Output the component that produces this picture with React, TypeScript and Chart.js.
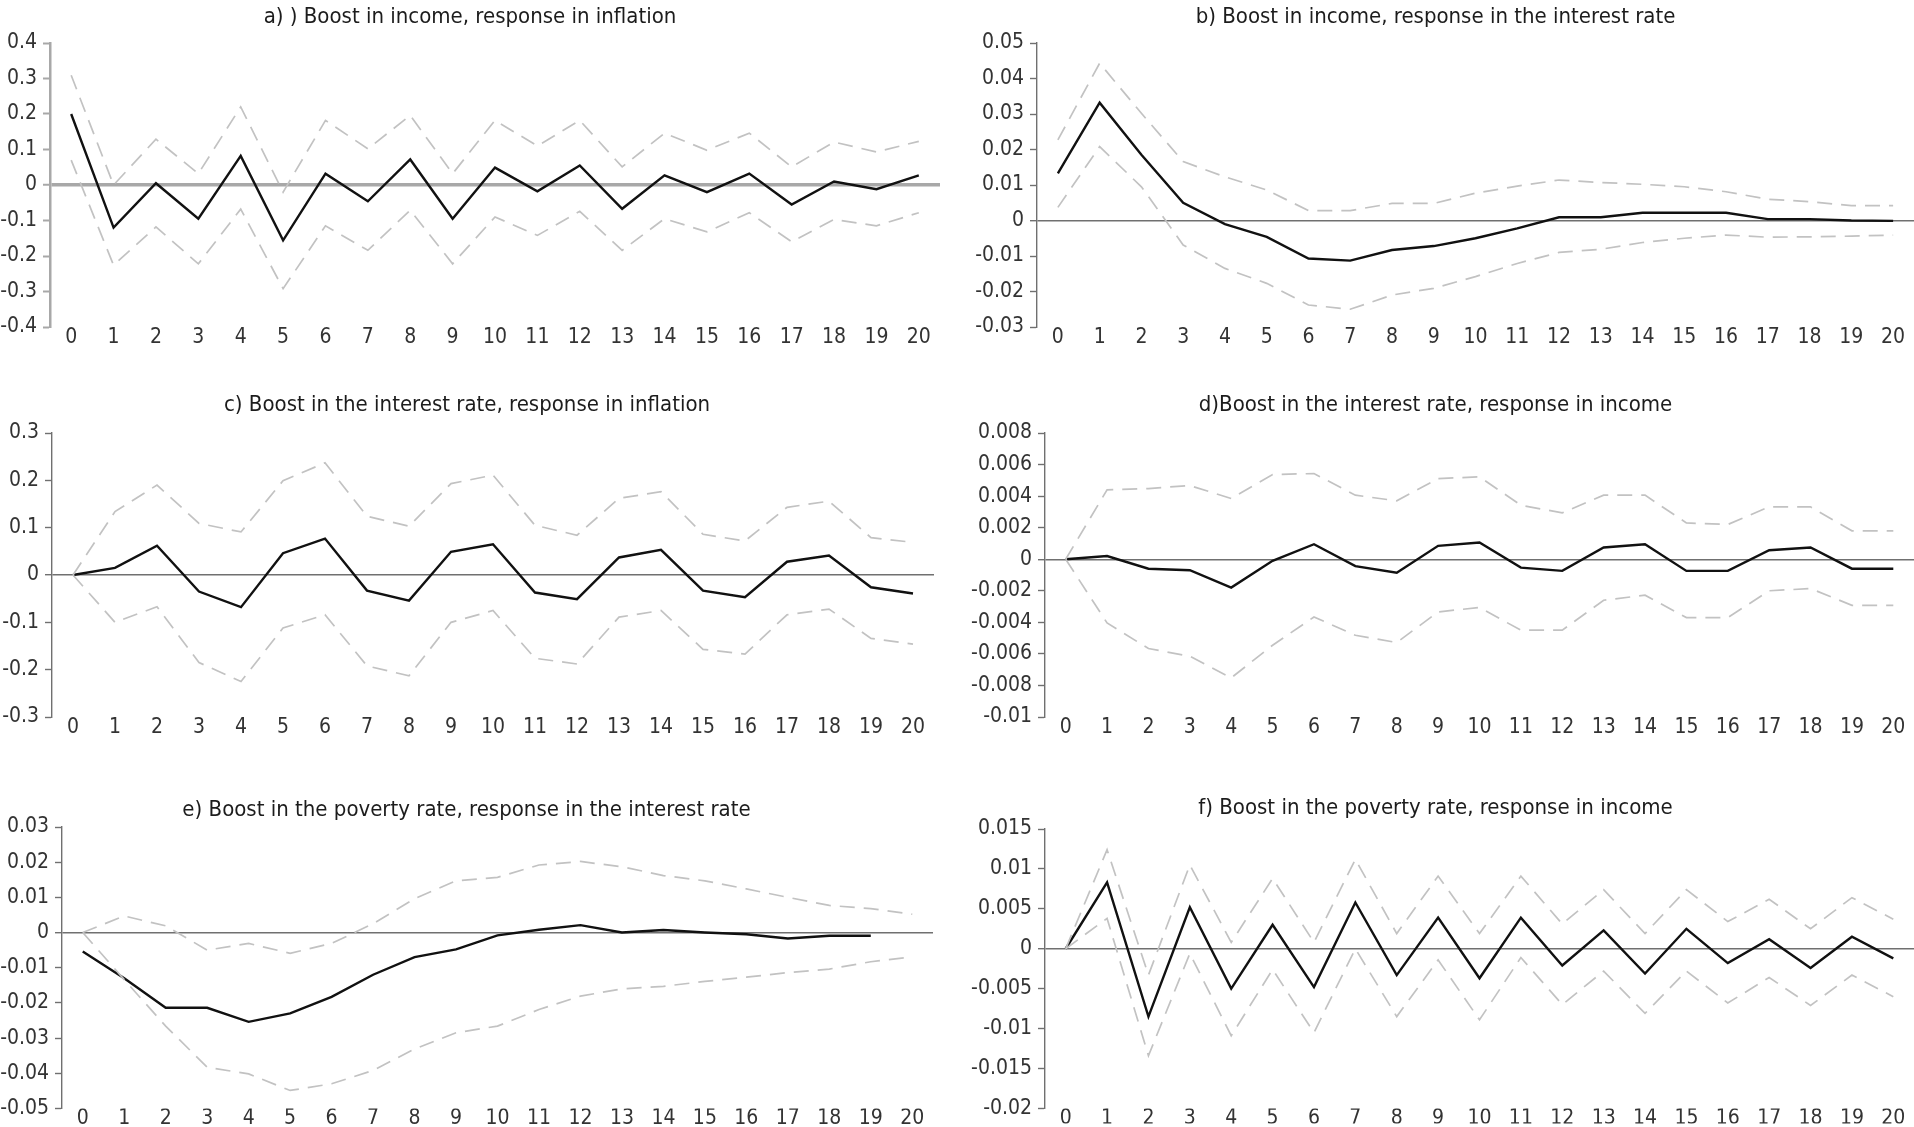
import React, { useEffect, useRef } from 'react';
import { Chart, registerables } from 'chart.js';

Chart.register(...registerables);

// ---------- data ----------
const periods = ['0', '1', '2', '3', '4', '5', '6', '7', '8', '9', '10', '11', '12', '13', '14', '15', '16', '17', '18', '19', '20'];

const titleA = 'a) ) Boost in income, response in inflation';
const titleB = 'b) Boost in income, response in the interest rate';
const titleC = 'c) Boost in the interest rate, response in inflation';
const titleD = 'd)Boost in the interest rate, response in income';
const titleE = 'e) Boost in the poverty rate, response in the interest rate';
const titleF = 'f) Boost in the poverty rate, response in income';

const aMain = [0.2, -0.12, 0.005, -0.095, 0.082, -0.156, 0.032, -0.046, 0.072, -0.095, 0.049, -0.018, 0.055, -0.067, 0.027, -0.02, 0.032, -0.055, 0.01, -0.012, 0.027];
const aUpper = [0.309, 0.0, 0.129, 0.032, 0.22, -0.02, 0.182, 0.102, 0.196, 0.032, 0.182, 0.11, 0.182, 0.051, 0.146, 0.098, 0.146, 0.051, 0.121, 0.093, 0.123];
const aLower = [0.07, -0.226, -0.118, -0.222, -0.068, -0.292, -0.115, -0.184, -0.071, -0.222, -0.09, -0.142, -0.074, -0.184, -0.095, -0.132, -0.078, -0.16, -0.097, -0.115, -0.078];

const bMain = [0.0133, 0.0332, 0.0185, 0.005, -0.001, -0.0046, -0.0107, -0.0113, -0.0083, -0.0072, -0.005, -0.0022, 0.0009, 0.0009, 0.0022, 0.0022, 0.0022, 0.0004, 0.0004, 0.0, -0.0001];
const bUpper = [0.0227, 0.0443, 0.0302, 0.0166, 0.0123, 0.0086, 0.0028, 0.0028, 0.0048, 0.0048, 0.0077, 0.0097, 0.0114, 0.0107, 0.0102, 0.0095, 0.0081, 0.006, 0.0053, 0.0042, 0.0042];
const bLower = [0.0037, 0.0208, 0.0095, -0.0069, -0.0135, -0.0177, -0.0238, -0.025, -0.021, -0.0191, -0.0158, -0.0121, -0.009, -0.0081, -0.0062, -0.005, -0.0041, -0.0047, -0.0046, -0.0044, -0.0041];

const cMain = [0, 0.015, 0.062, -0.035, -0.068, 0.046, 0.077, -0.033, -0.054, 0.049, 0.065, -0.037, -0.051, 0.037, 0.053, -0.033, -0.047, 0.028, 0.041, -0.026, -0.039];
const cUpper = [0, 0.134, 0.19, 0.109, 0.091, 0.199, 0.237, 0.124, 0.103, 0.193, 0.211, 0.105, 0.084, 0.162, 0.176, 0.086, 0.072, 0.143, 0.156, 0.079, 0.069];
const cLower = [0, -0.1, -0.067, -0.185, -0.225, -0.112, -0.084, -0.192, -0.213, -0.1, -0.075, -0.176, -0.188, -0.089, -0.075, -0.157, -0.167, -0.084, -0.072, -0.134, -0.146];

const dMain = [0, 0.0002, -0.0006, -0.0007, -0.0018, -0.0001, 0.00095, -0.00044, -0.00085, 0.00085, 0.00106, -0.00053, -0.00074, 0.00074, 0.00095, -0.00074, -0.00074, 0.00057, 0.00074, -0.0006, -0.0006];
const dUpper = [0, 0.0044, 0.00448, 0.00467, 0.00385, 0.00537, 0.00543, 0.00406, 0.0037, 0.00511, 0.00522, 0.00342, 0.00294, 0.00406, 0.00406, 0.0023, 0.0022, 0.00332, 0.00332, 0.0018, 0.0018];
const dLower = [0, -0.00404, -0.00566, -0.00615, -0.00752, -0.00545, -0.00366, -0.00482, -0.00528, -0.00334, -0.00306, -0.0045, -0.0045, -0.0026, -0.00228, -0.0037, -0.0037, -0.002, -0.00186, -0.00292, -0.00292];

const eMain = [-0.0054, -0.013, -0.0214, -0.0214, -0.0254, -0.023, -0.0183, -0.012, -0.007, -0.0048, -0.0008, 0.0008, 0.0021, 0, 0.0007, 0, -0.0005, -0.0017, -0.0009, -0.0009, null];
const eUpper = [0, 0.0047, 0.0019, -0.005, -0.0031, -0.0059, -0.0031, 0.0025, 0.0096, 0.0147, 0.0157, 0.0192, 0.0202, 0.0187, 0.0162, 0.0147, 0.0124, 0.01, 0.0077, 0.0068, 0.0052];
const eLower = [0, -0.0134, -0.0266, -0.0383, -0.0402, -0.0449, -0.043, -0.0392, -0.0331, -0.0285, -0.0266, -0.0219, -0.0181, -0.016, -0.0153, -0.0139, -0.0127, -0.0114, -0.0104, -0.0083, -0.0069];

const fMain = [0, 0.0083, -0.0085, 0.0052, -0.005, 0.003, -0.0048, 0.0058, -0.0033, 0.0039, -0.0037, 0.0039, -0.0021, 0.0023, -0.0031, 0.0025, -0.0018, 0.0012, -0.0024, 0.0015, -0.0012];
const fUpper = [0, 0.0124, -0.0033, 0.0105, 0.0008, 0.0088, 0.0008, 0.0112, 0.0019, 0.0091, 0.0019, 0.0091, 0.0031, 0.0074, 0.0019, 0.0074, 0.0034, 0.0062, 0.0025, 0.0064, 0.0037];
const fLower = [0, 0.0038, -0.0134, -0.0006, -0.0109, -0.0026, -0.0105, 0, -0.0085, -0.0014, -0.0089, -0.0011, -0.007, -0.0028, -0.0081, -0.0028, -0.0068, -0.0036, -0.0071, -0.0033, -0.006];

// y-axis ranges [min, max, step]
const aRange = [-0.4, 0.4, 0.1];
const bRange = [-0.03, 0.05, 0.01];
const cRange = [-0.3, 0.3, 0.1];
const dRange = [-0.01, 0.008, 0.002];
const eRange = [-0.05, 0.03, 0.01];
const fRange = [-0.02, 0.015, 0.005];

// ---------- styles / layout ----------
const FONT = '"Liberation Sans Narrow", "DejaVu Sans Condensed", "Roboto Condensed", "Arial Narrow", sans-serif';

type Geo = {
  left: number; top: number; width: number; height: number;
  axisX: number; areaRight: number; areaTop: number; areaBottom: number; titleY: number;
};

type Look = { axisColor: string; axisWidth: number; zeroColor: string; zeroWidth: number };

const lookA: Look = { axisColor: '#a8a8a8', axisWidth: 2.5, zeroColor: '#a8a8a8', zeroWidth: 3.5 };
const lookStd: Look = { axisColor: '#707070', axisWidth: 1.4, zeroColor: '#707070', zeroWidth: 1.4 };

const fmt = (v: number) => String(Math.round(v * 1e6) / 1e6);

type PanelProps = {
  title: string;
  main: (number | null)[];
  upper: number[];
  lower: number[];
  range: number[];
  geo: Geo;
  look: Look;
};

function Panel({ title, main, upper, lower, range, geo, look }: PanelProps) {
  const ref = useRef<HTMLCanvasElement>(null);
  useEffect(() => {
    const g = geo;
    const titleSize = 22;
    const lh = titleSize * 1.2;
    const padTop = g.titleY - g.top - lh / 2;
    const padBottom = g.areaTop - g.top - padTop - lh;
    const isZero = (ctx: any) => ctx && ctx.tick && Math.abs(ctx.tick.value) < 1e-9;
    const band = {
      borderColor: '#c2c2c2',
      borderWidth: 1.7,
      borderDash: [15, 9],
      pointRadius: 0,
      fill: false,
      tension: 0,
    };
    const chart = new Chart(ref.current as HTMLCanvasElement, {
      type: 'line',
      data: {
        labels: periods,
        datasets: [
          { ...band, data: upper },
          { ...band, data: lower },
          { data: main, borderColor: '#111111', borderWidth: 2.4, pointRadius: 0, fill: false, tension: 0, spanGaps: false },
        ],
      },
      options: {
        animation: false,
        responsive: false,
        maintainAspectRatio: false,
        layout: { padding: { top: 0, left: 0, bottom: 0, right: g.left + g.width - g.areaRight } },
        plugins: {
          legend: { display: false },
          tooltip: { enabled: false },
          title: {
            display: true,
            text: title,
            color: '#1c1c1c',
            font: { family: FONT, size: titleSize, weight: 'normal', lineHeight: 1.2 },
            padding: { top: padTop, bottom: padBottom },
          },
        },
        scales: {
          x: {
            offset: true,
            grid: { display: false },
            border: { display: false },
            ticks: {
              color: '#333333',
              font: { family: FONT, size: 21 },
              padding: -10,
              maxRotation: 0,
              autoSkip: false,
            },
            afterFit: (s: any) => { s.height = g.top + g.height - g.areaBottom; },
          },
          y: {
            min: range[0],
            max: range[1],
            ticks: {
              stepSize: range[2],
              color: '#333333',
              font: { family: FONT, size: 21 },
              padding: 6,
              callback: (v: any) => fmt(Number(v)),
            },
            grid: {
              drawOnChartArea: true,
              color: (ctx: any) => (isZero(ctx) ? look.zeroColor : 'rgba(0,0,0,0)'),
              lineWidth: (ctx: any) => (isZero(ctx) ? look.zeroWidth : 1),
              tickColor: look.axisColor,
              tickWidth: look.axisWidth > 2 ? 2 : 1.4,
              tickLength: 7,
            },
            border: { display: true, color: look.axisColor, width: look.axisWidth },
            afterFit: (s: any) => { s.width = g.axisX - g.left; },
          },
        },
      } as any,
    });
    return () => chart.destroy();
  }, []);
  return (
    <canvas
      ref={ref}
      width={geo.width}
      height={geo.height}
      style={{ position: 'absolute', left: geo.left, top: geo.top, width: geo.width, height: geo.height }}
    />
  );
}

const geoA: Geo = { left: 0, top: 0, width: 966, height: 375, axisX: 50, areaRight: 940, areaTop: 43, areaBottom: 327, titleY: 17 };
const geoB: Geo = { left: 957, top: 0, width: 1012, height: 375, axisX: 1037, areaRight: 1914, areaTop: 43, areaBottom: 327, titleY: 17 };
const geoC: Geo = { left: 0, top: 378, width: 974, height: 380, axisX: 52, areaRight: 934, areaTop: 433, areaBottom: 717, titleY: 405 };
const geoD: Geo = { left: 957, top: 378, width: 1006, height: 380, axisX: 1045, areaRight: 1914, areaTop: 433, areaBottom: 717, titleY: 405 };
const geoE: Geo = { left: 0, top: 770, width: 984, height: 357, axisX: 62, areaRight: 933, areaTop: 827, areaBottom: 1111, titleY: 810 };
const geoF: Geo = { left: 957, top: 770, width: 998, height: 357, axisX: 1045, areaRight: 1914, areaTop: 829, areaBottom: 1112, titleY: 808 };

export default function App() {
  return (
    <div style={{ position: 'absolute', left: 0, top: 0, width: 1914, height: 1127, overflow: 'hidden', background: '#ffffff' }}>
      <Panel title={titleA} main={aMain} upper={aUpper} lower={aLower} range={aRange} geo={geoA} look={lookA} />
      <Panel title={titleB} main={bMain} upper={bUpper} lower={bLower} range={bRange} geo={geoB} look={lookStd} />
      <Panel title={titleC} main={cMain} upper={cUpper} lower={cLower} range={cRange} geo={geoC} look={lookStd} />
      <Panel title={titleD} main={dMain} upper={dUpper} lower={dLower} range={dRange} geo={geoD} look={lookStd} />
      <Panel title={titleE} main={eMain} upper={eUpper} lower={eLower} range={eRange} geo={geoE} look={lookStd} />
      <Panel title={titleF} main={fMain} upper={fUpper} lower={fLower} range={fRange} geo={geoF} look={lookStd} />
    </div>
  );
}
